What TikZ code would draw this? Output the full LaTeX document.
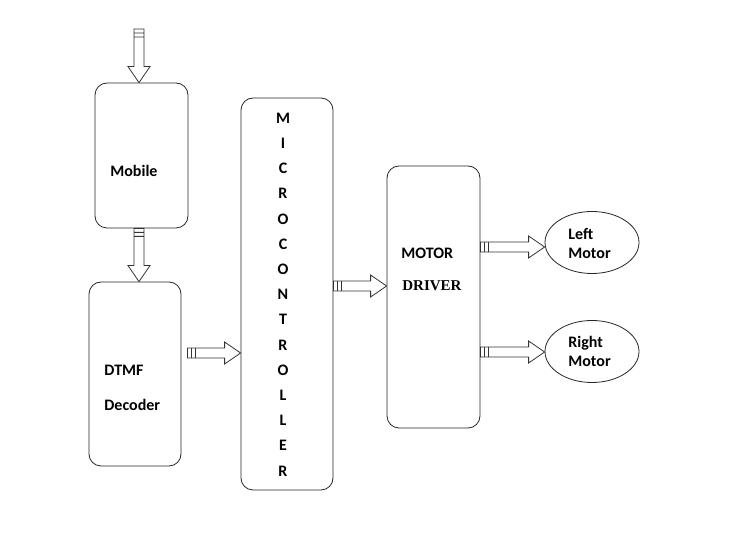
\documentclass[tikz,border=0pt]{standalone}
\usepackage{fontspec}
\setmainfont{Carlito}
\newfontfamily\timesfont{Liberation Serif}
\usetikzlibrary{calc,shapes.geometric}

\begin{document}
\begin{tikzpicture}[
  x=1pt,y=-1pt,
  every path/.style={line width=0.8pt},
  block/.style={draw=black!85,rounded corners=12pt,inner sep=0pt},
  motor/.style={ellipse,draw=black!85,minimum width=94pt,minimum height=62pt,inner sep=0pt},
  txt/.style={font=\fontsize{16}{19}\selectfont\bfseries,align=left,inner sep=0pt,anchor=west},
  flow/.style={draw=black!80,to path={
    ($(\tikztotarget)!16pt!(\tikztostart)$) coordinate (fh)
    ($(\tikztostart)!4pt!(\tikztotarget)$) coordinate (f1)
    ($(\tikztostart)!8pt!(\tikztotarget)$) coordinate (f2)
    ($(\tikztostart)!5pt!90:(\tikztotarget)$) -- ($(fh)!5pt!90:(\tikztotarget)$)
    -- ($(fh)!11pt!90:(\tikztotarget)$) -- (\tikztotarget)
    -- ($(fh)!11pt!-90:(\tikztotarget)$) -- ($(fh)!5pt!-90:(\tikztotarget)$)
    -- ($(\tikztostart)!5pt!-90:(\tikztotarget)$) -- cycle
    ($(f1)!5pt!90:(\tikztotarget)$) -- ($(f1)!5pt!-90:(\tikztotarget)$)
    ($(f2)!5pt!90:(\tikztotarget)$) -- ($(f2)!5pt!-90:(\tikztotarget)$)
  }},
]
\useasboundingbox (0,0) rectangle (732,537);

% blocks
\node[block,minimum width=93pt,minimum height=145pt] (mobile) at (141.5,155.5) {};
\node[block,minimum width=92pt,minimum height=184pt] (dtmf) at (135,374) {};
\node[block,minimum width=92pt,minimum height=392pt] (mcu) at (287,294) {};
\node[block,minimum width=93pt,minimum height=262pt] (driver) at (433.5,297) {};
\node[motor] (left) at (592,242.5) {};
\node[motor] (right) at (592,351.5) {};

% texts
\node[txt] (mobiletxt) at (110,171) {Mobile};
\node[txt,font=\fontsize{16}{35}\selectfont\bfseries] (dtmftxt) at (104,387.5) {DTMF\\Decoder};
\node[font=\fontsize{16}{25.2}\selectfont\bfseries,align=center,inner sep=0pt] (mcutxt) at (283,294.5)
  {M\\I\\C\\R\\O\\C\\O\\N\\T\\R\\O\\L\\L\\E\\R};
\node[txt] (motortxt) at (401,253) {MOTOR};
\node[txt,font=\fontsize{15}{19}\selectfont\timesfont\bfseries] (drivertxt) at (402,286) {DRIVER};
\node[txt] (lefttxt) at (568,243.5) {Left\\Motor};
\node[txt] (righttxt) at (568,351.5) {Right\\Motor};

% connectors
\coordinate (in) at (139,29);
\draw[flow] (in) to (in |- mobile.north);
\draw[flow] (in |- mobile.south) to (in |- dtmf.north);
\draw[flow] ([xshift=6pt]dtmf.east |- 0,353) to (mcu.west |- 0,353);
\draw[flow] (mcu.east |- 0,286) to (driver.west |- 0,286);
\draw[flow] (driver.east |- 0,247) to (left.west |- 0,247);
\draw[flow] (driver.east |- 0,352) to (right.west |- 0,352);
\end{tikzpicture}
\end{document}
